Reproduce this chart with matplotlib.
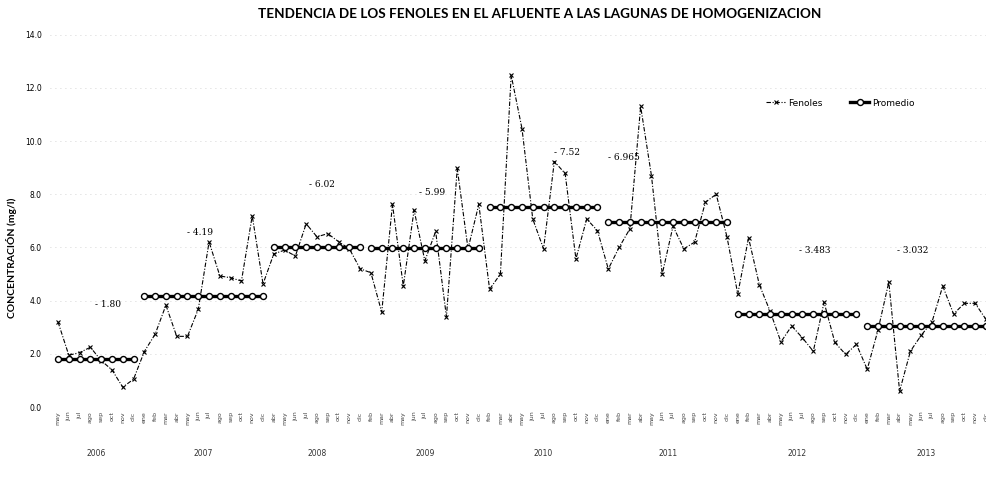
import numpy as np
import matplotlib
matplotlib.use("Agg")
import matplotlib.pyplot as plt

# fenoles por muestreo, agrupados por año
fenoles_g1 = [3.2, 1.95, 2.05, 2.25, 1.75, 1.4, 0.75, 1.05]
fenoles_g2 = [2.09, 2.74, 3.83, 2.66, 2.66, 3.68, 6.21, 4.93, 4.86, 4.74, 7.19, 4.63]
fenoles_g3 = [5.76, 5.9, 5.68, 6.89, 6.4, 6.52, 6.22, 5.95, 5.2]
fenoles_g4 = [5.05, 3.57, 7.62, 4.55, 7.4, 5.5, 6.6, 3.39, 8.97, 5.95, 7.62]
fenoles_g5 = [4.43, 5.0, 12.47, 10.47, 7.07, 5.95, 9.23, 8.78, 5.57, 7.07, 6.63]
fenoles_g6 = [5.19, 6.0, 6.7, 11.3, 8.7, 5.0, 6.8, 5.95, 6.2, 7.7, 8.0, 6.4]
fenoles_g7 = [4.25, 6.36, 4.6, 3.6, 2.45, 3.05, 2.6, 2.1, 3.94, 2.43, 1.98, 2.36]
fenoles_g8 = [1.42, 2.9, 4.7, 0.6, 2.1, 2.7, 3.2, 4.55, 3.5, 3.9, 3.9, 3.3]

grupos = [fenoles_g1, fenoles_g2, fenoles_g3, fenoles_g4,
          fenoles_g5, fenoles_g6, fenoles_g7, fenoles_g8]
promedios = [1.80, 4.19, 6.02, 5.99, 7.52, 6.965, 3.483, 3.032]
etiquetas_prom = ["1.80", "4.19", "6.02", "5.99", "7.52", "6.965", "3.483", "3.032"]
anios = ["2006", "2007", "2008", "2009", "2010", "2011", "2012", "2013"]
meses = ["ene", "feb", "mar", "abr", "may", "jun",
         "jul", "ago", "sep", "oct", "nov", "dic"]

# desplazamiento de las etiquetas de promedio (en puntos de x y en mg/l)
lbl_dx = [3.4, 4.0, 3.3, 4.5, 6.0, 0.0, 5.7, 2.8]
lbl_dy = [2.05, 2.36, 2.33, 2.06, 2.03, 2.43, 2.42, 2.87]

fenoles = [v for g in grupos for v in g]
n = len(fenoles)
x = np.arange(n)

tick_labels = []
for g in grupos:
    tick_labels += meses[12 - len(g):]

fig = plt.figure(figsize=(9.87, 4.87), dpi=100)
ax = fig.add_axes([0.0507, 0.164, 0.9493, 0.765])

ax.plot(x, fenoles, color="black", lw=0.8, ls=(0, (4, 1.5, 1, 1.5)),
        marker="x", ms=3, mew=0.8, label="Fenoles", zorder=3)

start = 0
for k, g in enumerate(grupos):
    xs = np.arange(start, start + len(g))
    ax.plot(xs, [promedios[k]] * len(g), color="black", lw=2.4,
            marker="o", ms=4.3, mfc="white", mec="black", mew=1.0,
            label="Promedio" if k == 0 else None, zorder=4)
    ax.text(start + lbl_dx[k], promedios[k] + lbl_dy[k], "- " + etiquetas_prom[k],
            fontsize=6.5, family="DejaVu Serif", ha="left", va="center")
    ax.text(start + (len(g) - 1) / 2, -1.75, anios[k], fontsize=5.5,
            ha="center", va="center", color="#333333")
    start += len(g)

ax.set_xlim(-0.74, 86.1)
ax.set_ylim(0, 14)
ax.set_yticks(np.arange(0, 15, 2))
ax.set_yticklabels([f"{v:.1f}" for v in np.arange(0, 15, 2)], fontsize=5.5)
ax.set_xticks(x)
ax.set_xticklabels(tick_labels, rotation=90, fontsize=4.5, color="#444444")
ax.tick_params(length=0, pad=3)
ax.tick_params(axis="y", pad=6)

for s in ax.spines.values():
    s.set_visible(False)
ax.grid(axis="y", color="#c8c8c8", lw=0.6, ls=(0, (1, 5)))
ax.set_axisbelow(True)

ax.set_ylabel("CONCENTRACIÓN (mg/l)", fontsize=7.5, fontweight="bold", family="Lato")
ax.yaxis.set_label_coords(-0.035, 0.40)
fig.text(0.547, 0.972, "TENDENCIA DE LOS FENOLES EN EL AFLUENTE A LAS LAGUNAS DE HOMOGENIZACION",
         ha="center", va="center", fontsize=9.7, fontweight="bold", family="Lato")

ax.legend(loc="upper left", bbox_to_anchor=(0.755, 0.85), ncol=2, frameon=False,
          fontsize=6.5, handlelength=2.2, columnspacing=3.0, handletextpad=0.3)

fig.savefig("out.png", dpi=100)
